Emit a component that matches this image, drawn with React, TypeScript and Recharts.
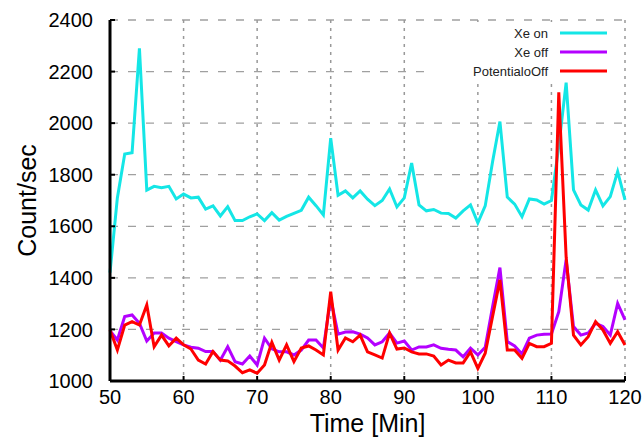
import {
  LineChart,
  Line,
  XAxis,
  YAxis,
  CartesianGrid,
  Legend,
} from "recharts";

const FONT = '"Liberation Sans", Arial, sans-serif';

// time axis (minutes)
const minutes = [
  50, 51, 52, 53, 54, 55, 56, 57, 58, 59,
  60, 61, 62, 63, 64, 65, 66, 67, 68, 69,
  70, 71, 72, 73, 74, 75, 76, 77, 78, 79,
  80, 81, 82, 83, 84, 85, 86, 87, 88, 89,
  90, 91, 92, 93, 94, 95, 96, 97, 98, 99,
  100, 101, 102, 103, 104, 105, 106, 107, 108, 109,
  110, 111, 112, 113, 114, 115, 116, 117, 118, 119,
  120,
];

const xeOn = [
  1420, 1710, 1880, 1885, 2290, 1740, 1755, 1750, 1755, 1706,
  1725, 1710, 1713, 1667, 1679, 1640, 1676, 1622, 1622, 1637,
  1648, 1622, 1653, 1624, 1638, 1650, 1662, 1713, 1680, 1644,
  1942, 1720, 1737, 1710, 1737, 1705, 1680, 1700, 1745, 1675,
  1710, 1845, 1683, 1660, 1665, 1651, 1650, 1632, 1660, 1683,
  1613, 1679, 1850, 2006, 1713, 1686, 1637, 1706, 1702, 1686,
  1700, 1910, 2157, 1741, 1683, 1663, 1741, 1679, 1715, 1812,
  1702,
];

const xeOff = [
  1195, 1159, 1250, 1256, 1224, 1155, 1186, 1186, 1166, 1153,
  1140, 1131, 1127, 1114, 1114, 1081, 1133, 1075, 1066, 1097,
  1062, 1166, 1125, 1113, 1113, 1101, 1120, 1159, 1159, 1128,
  1320, 1182, 1190, 1191, 1182, 1167, 1140, 1152, 1186, 1147,
  1155, 1120, 1132, 1132, 1140, 1127, 1123, 1120, 1094, 1127,
  1101, 1131, 1288, 1440, 1153, 1136, 1105, 1166, 1178, 1181,
  1182, 1269, 1470, 1211, 1178, 1186, 1224, 1211, 1178, 1301,
  1237,
];

const potentialOff = [
  1198, 1120, 1217, 1230, 1217, 1295, 1133, 1178, 1136, 1166,
  1140, 1124, 1081, 1066, 1114, 1081, 1078, 1058, 1032, 1043,
  1030, 1062, 1150, 1081, 1140, 1075, 1128, 1136, 1120, 1101,
  1346, 1120, 1167, 1152, 1178, 1113, 1101, 1089, 1186, 1124,
  1128, 1113, 1105, 1105, 1097, 1062, 1081, 1070, 1070, 1113,
  1049, 1108, 1250, 1392, 1120, 1120, 1088, 1146, 1133, 1133,
  1146, 2120, 1480, 1178, 1140, 1172, 1230, 1198, 1146, 1191,
  1140,
];

const xTicks = [50, 60, 70, 80, 90, 100, 110, 120];
const yTicks = [1000, 1200, 1400, 1600, 1800, 2000, 2200, 2400];

const seriesNames = ["Xe on", "Xe off", "PotentialoOff"];
const seriesColors = ["#14e6e6", "#b400ff", "#ff0000"];

const data = minutes.map((t, i) => ({
  t,
  on: xeOn[i],
  off: xeOff[i],
  pot: potentialOff[i],
}));

// gnuplot-style key: right-aligned labels with a line sample
function Key() {
  return (
    <svg width={192} height={60} style={{ display: "block", background: "#fff" }}>
      {seriesNames.map((name, i) => (
        <g key={name}>
          <text
            x={118}
            y={11 + 19 * i}
            dy="0.35em"
            textAnchor="end"
            fontFamily={FONT}
            fontSize={13}
            fill="#222"
          >
            {name}
          </text>
          <line
            x1={130}
            x2={177}
            y1={11 + 19 * i}
            y2={11 + 19 * i}
            stroke={seriesColors[i]}
            strokeWidth={3}
          />
        </g>
      ))}
    </svg>
  );
}

const tickStyle = { fontSize: 20, fill: "#000", fontFamily: FONT };

export default function App() {
  return (
    <div style={{ position: "absolute", left: 0, top: 0, width: 644, height: 438, background: "#fff" }}>
      <LineChart
        width={644}
        height={438}
        data={data}
        margin={{ top: 20, right: 19, bottom: 0, left: 0 }}
      >
        {/* horizontal dashed grid */}
        <CartesianGrid
          vertical={false}
          stroke="#a0a0a0"
          strokeWidth={1.3}
          strokeDasharray="8 10"
        />
        {/* vertical dotted grid */}
        <CartesianGrid
          horizontal={false}
          stroke="#999"
          strokeWidth={1.5}
          strokeDasharray="3 5"
        />

        <XAxis
          dataKey="t"
          type="number"
          domain={[50, 120]}
          ticks={xTicks}
          height={57}
          axisLine={{ stroke: "#000", strokeWidth: 3 }}
          tickLine={{ stroke: "#000", strokeWidth: 2 }}
          tickSize={-5}
          tickMargin={14}
          tick={tickStyle}
          interval={0}
          label={{
            value: "Time [Min]",
            position: "insideBottom",
            offset: 6,
            style: { fontSize: 25, fill: "#000", fontFamily: FONT },
          }}
        />
        <XAxis
          xAxisId="top"
          orientation="top"
          dataKey="t"
          type="number"
          domain={[50, 120]}
          ticks={xTicks}
          height={0}
          axisLine={{ stroke: "#000", strokeWidth: 3 }}
          tickLine={{ stroke: "#000", strokeWidth: 2 }}
          tickSize={-5}
          tick={false}
        />
        <YAxis
          type="number"
          domain={[1000, 2400]}
          ticks={yTicks}
          width={110}
          axisLine={{ stroke: "#000", strokeWidth: 3 }}
          tickLine={{ stroke: "#000", strokeWidth: 2 }}
          tickSize={-5}
          tickMargin={22}
          tick={tickStyle}
          interval={0}
          label={{
            value: "Count/sec",
            content: ({ viewBox }: any) => {
              const cx = viewBox.x + 36;
              const cy = viewBox.y + viewBox.height / 2;
              return (
                <text
                  x={cx}
                  y={cy}
                  textAnchor="middle"
                  transform={`rotate(-90 ${cx} ${cy})`}
                  fontSize={25}
                  fontFamily={FONT}
                  fill="#000"
                >
                  Count/sec
                </text>
              );
            },
          }}
        />
        <YAxis
          yAxisId="right"
          orientation="right"
          type="number"
          domain={[1000, 2400]}
          ticks={yTicks}
          width={0}
          axisLine={{ stroke: "#000", strokeWidth: 3 }}
          tickLine={{ stroke: "#000", strokeWidth: 2 }}
          tickSize={-5}
          tick={false}
        />

        <Legend
          layout="vertical"
          align="center"
          verticalAlign="middle"
          wrapperStyle={{ top: 22, left: 430, width: 192, height: 60 }}
          content={() => <Key />}
        />

        <Line
          type="linear"
          dataKey="on"
          stroke={seriesColors[0]}
          strokeWidth={3}
          dot={false}
          isAnimationActive={false}
        />
        <Line
          type="linear"
          dataKey="off"
          stroke={seriesColors[1]}
          strokeWidth={3}
          dot={false}
          isAnimationActive={false}
        />
        <Line
          type="linear"
          dataKey="pot"
          stroke={seriesColors[2]}
          strokeWidth={3}
          dot={false}
          isAnimationActive={false}
        />
      </LineChart>
    </div>
  );
}
